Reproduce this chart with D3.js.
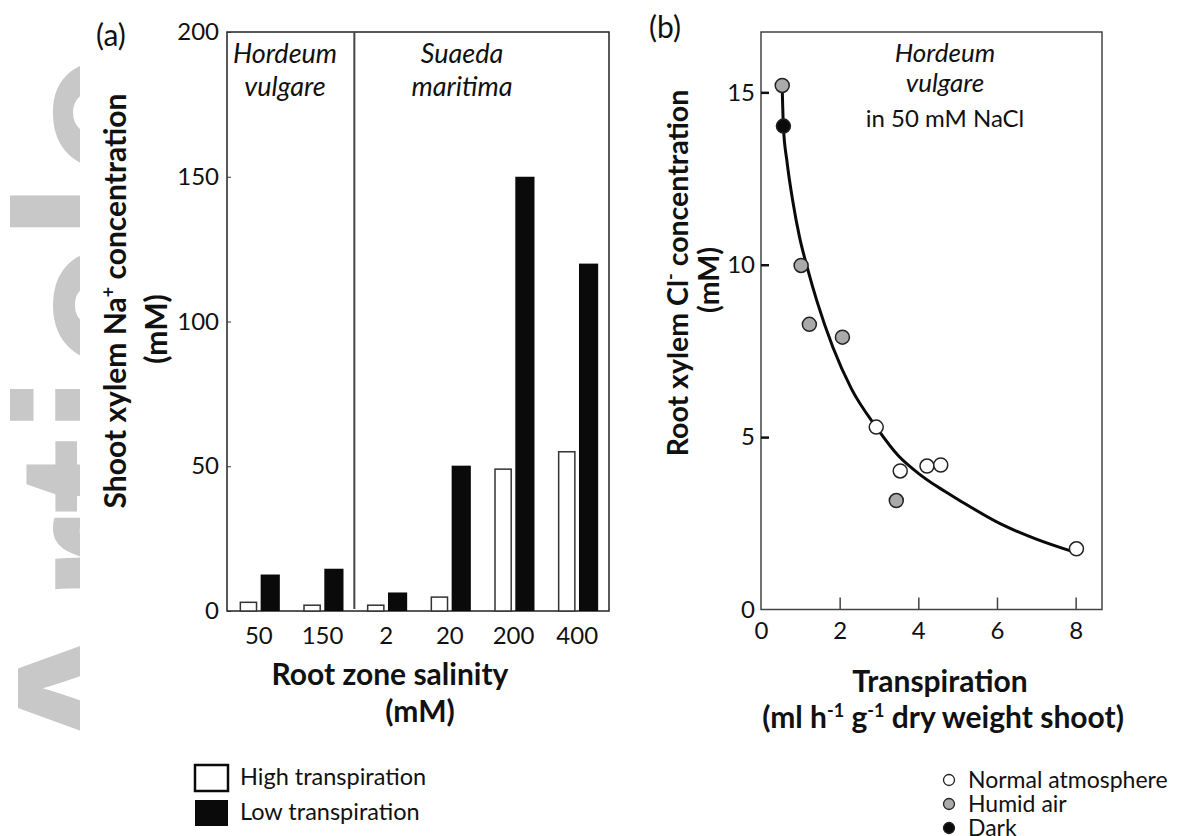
<!DOCTYPE html>
<html lang="en">
<head>
<meta charset="UTF-8">
<title>Xylem ion concentration vs transpiration</title>
<script src="https://cdnjs.cloudflare.com/ajax/libs/d3/7.8.5/d3.min.js"></script>
<style>
  body { margin: 0; padding: 0; background: #fff; }
  svg { display: block; font-family: Lato, "Open Sans", sans-serif; }
  .tick text { fill: #111; }
</style>
</head>
<body>
<div id="chart"></div>
<script>
// ---- panel (a) data: shoot xylem Na+ (mM) ----
const salinity = ["50", "150", "2", "20", "200", "400"];
const highTranspiration = [3, 2, 2, 4.8, 49, 55];
const lowTranspiration = [12.6, 14.6, 6.4, 50.2, 150, 120];
const naTicks = [0, 50, 100, 150, 200];

// ---- panel (b) data: root xylem Cl- (mM) vs transpiration ----
const normalX = [2.93, 3.54, 4.22, 4.57, 8.02];
const normalY = [5.29, 4.02, 4.16, 4.19, 1.76];
const humidX = [0.54, 1.02, 1.23, 2.07, 3.44];
const humidY = [15.2, 9.98, 8.27, 7.9, 3.16];
const darkX = [0.57];
const darkY = [14.02];
// fitted curve
const curveX = [0.54, 0.57, 0.66, 0.8, 0.98, 1.18, 1.42, 1.83, 2.3, 2.93, 3.5, 4.0, 4.5, 5.0, 6.08, 7.0, 7.95];
const curveY = [15.1, 14.0, 13.0, 11.9, 10.8, 9.9, 8.95, 7.6, 6.4, 5.29, 4.45, 3.95, 3.55, 3.2, 2.49, 2.04, 1.67];
const clTicks = [0, 5, 10, 15];
const transpTicks = [0, 2, 4, 6, 8];

const W = 1180, H = 836;
const svg = d3.select("#chart").append("svg")
  .attr("width", W).attr("height", H);

// watermark on the left edge
svg.append("clipPath").attr("id", "wm")
  .append("rect").attr("x", 0).attr("y", 0).attr("width", 80).attr("height", H);
svg.append("g")
  .attr("clip-path", "url(#wm)")
  .append("text")
  .attr("transform", "translate(178,772) rotate(-90)")
  .attr("font-family", "'Liberation Sans', Arial, sans-serif")
  .attr("font-weight", "bold")
  .attr("font-size", 232)
  .attr("fill", "#c8c8c8")
  .text("Article");

// ================= panel (a) =================
const a = { left: 227, right: 609, top: 32, bottom: 611 };

const x0 = d3.scaleBand().domain(salinity).range([a.left, a.right]).padding(0);
const x1 = d3.scaleBand().domain(["high", "low"]).range([-20, 21]).paddingInner(0.12);
const ya = d3.scaleLinear().domain([0, 200]).range([a.bottom, a.top]);

const gA = svg.append("g");

gA.append("rect")
  .attr("x", a.left).attr("y", a.top)
  .attr("width", a.right - a.left).attr("height", a.bottom - a.top)
  .attr("fill", "none").attr("stroke", "#222").attr("stroke-width", 1.5);

// species divider
gA.append("line")
  .attr("x1", x0("2")).attr("x2", x0("2"))
  .attr("y1", a.top).attr("y2", a.bottom - 2)
  .attr("stroke", "#444").attr("stroke-width", 2);

const groups = gA.selectAll("g.grp")
  .data(salinity.map((s, i) => ({ s, high: highTranspiration[i], low: lowTranspiration[i] })))
  .join("g")
  .attr("class", "grp")
  .attr("transform", d => `translate(${x0(d.s) + x0.bandwidth() / 2},0)`);

groups.append("rect")
  .attr("x", x1("high") + 1.5)
  .attr("width", x1.bandwidth() - 3)
  .attr("y", d => ya(d.high))
  .attr("height", d => ya(0) - ya(d.high))
  .attr("fill", "#fff").attr("stroke", "#333").attr("stroke-width", 1.5);

groups.append("rect")
  .attr("x", x1("low"))
  .attr("width", x1.bandwidth())
  .attr("y", d => ya(d.low))
  .attr("height", d => ya(0) - ya(d.low))
  .attr("fill", "#0a0a0a");

const axA = gA.append("g")
  .attr("transform", `translate(${a.left},0)`)
  .call(d3.axisLeft(ya).tickValues(naTicks).tickSize(-4).tickPadding(8));
axA.select(".domain").remove();
axA.selectAll(".tick line").attr("stroke", "#333");
axA.selectAll(".tick text").attr("font-size", 24).attr("font-family", "Lato");

const axAx = gA.append("g")
  .attr("transform", `translate(0,${a.bottom})`)
  .call(d3.axisBottom(x0).tickSize(0).tickPadding(11));
axAx.select(".domain").remove();
axAx.selectAll(".tick text").attr("font-size", 24).attr("font-family", "Lato").attr("dy", "0.9em");

// species labels
const spA = [
  { x: 285, lines: ["Hordeum", "vulgare"] },
  { x: 462, lines: ["Suaeda", "maritima"] }
];
spA.forEach(s => {
  s.lines.forEach((t, i) => {
    gA.append("text")
      .attr("x", s.x).attr("y", 63 + i * 33)
      .attr("text-anchor", "middle")
      .attr("font-style", "italic").attr("font-size", 27)
      .attr("fill", "#111")
      .text(t);
  });
});

gA.append("text").attr("x", 96).attr("y", 46)
  .attr("font-size", 30).attr("fill", "#111").text("(a)");

// y title (a)
const yTitleA = gA.append("text")
  .attr("transform", "translate(126,301) rotate(-90)")
  .attr("text-anchor", "middle").attr("font-weight", "bold").attr("font-size", 30)
  .attr("fill", "#111");
yTitleA.append("tspan").text("Shoot xylem Na");
yTitleA.append("tspan").attr("dy", -11).attr("font-size", 18).text("+");
yTitleA.append("tspan").attr("dy", 11).text(" concentration");
gA.append("text")
  .attr("transform", "translate(167,329) rotate(-90)")
  .attr("text-anchor", "middle").attr("font-weight", "bold").attr("font-size", 30)
  .attr("fill", "#111").text("(mM)");

// x title (a)
gA.append("text").attr("x", 390).attr("y", 685)
  .attr("text-anchor", "middle").attr("font-weight", "bold").attr("font-size", 30)
  .attr("fill", "#111").text("Root zone salinity");
gA.append("text").attr("x", 420).attr("y", 722)
  .attr("text-anchor", "middle").attr("font-weight", "bold").attr("font-size", 30)
  .attr("fill", "#111").text("(mM)");

// legend (a)
const legA = [
  { label: "High transpiration", fill: "#fff", y: 765 },
  { label: "Low transpiration", fill: "#0a0a0a", y: 800 }
];
legA.forEach(l => {
  gA.append("rect").attr("x", 195).attr("y", l.y).attr("width", 33).attr("height", 26)
    .attr("fill", l.fill).attr("stroke", "#0a0a0a").attr("stroke-width", l.fill === "#fff" ? 2.5 : 0);
  gA.append("text").attr("x", 240).attr("y", l.y + 20)
    .attr("font-size", 23.5).attr("fill", "#111").text(l.label);
});

// ================= panel (b) =================
const b = { left: 761, right: 1102, top: 32, bottom: 609.5 };
const xb = d3.scaleLinear().domain([0, 8.67]).range([b.left, b.right]);
const yb = d3.scaleLinear().domain([0, 16.75]).range([b.bottom, b.top]);

const gB = svg.append("g");

gB.append("rect")
  .attr("x", b.left).attr("y", b.top)
  .attr("width", b.right - b.left).attr("height", b.bottom - b.top)
  .attr("fill", "none").attr("stroke", "#444").attr("stroke-width", 1.5);

const axBy = gB.append("g")
  .attr("transform", `translate(${b.left},0)`)
  .call(d3.axisLeft(yb).tickValues(clTicks).tickSize(-8).tickPadding(6));
axBy.select(".domain").remove();
axBy.selectAll(".tick line").attr("stroke", "#111").attr("stroke-width", 2.5)
  .filter(d => d === 0).remove();
axBy.selectAll(".tick text").attr("font-size", 24).attr("font-family", "Lato");

const axBx = gB.append("g")
  .attr("transform", `translate(0,${b.bottom})`)
  .call(d3.axisBottom(xb).tickValues(transpTicks).tickSize(-12).tickPadding(8));
axBx.select(".domain").remove();
axBx.selectAll(".tick line").attr("stroke", "#444").attr("stroke-width", 1.5)
  .filter(d => d === 0).remove();
axBx.selectAll(".tick text").attr("font-size", 24).attr("font-family", "Lato").attr("dy", "0.9em");

// fitted curve
const curvePts = curveX.map((x, i) => [x, curveY[i]]);
gB.append("path")
  .datum(curvePts)
  .attr("fill", "none").attr("stroke", "#0a0a0a").attr("stroke-width", 3)
  .attr("d", d3.line().x(d => xb(d[0])).y(d => yb(d[1])).curve(d3.curveMonotoneX));

const pts = [];
normalX.forEach((x, i) => pts.push({ x, y: normalY[i], fill: "#fff" }));
humidX.forEach((x, i) => pts.push({ x, y: humidY[i], fill: "#aaaaaa" }));
darkX.forEach((x, i) => pts.push({ x, y: darkY[i], fill: "#0a0a0a" }));

gB.selectAll("circle.pt")
  .data(pts)
  .join("circle")
  .attr("class", "pt")
  .attr("cx", d => xb(d.x)).attr("cy", d => yb(d.y)).attr("r", 7)
  .attr("fill", d => d.fill).attr("stroke", "#222").attr("stroke-width", 1.5);

// annotation
[["Hordeum", true, 62], ["vulgare", true, 92], ["in 50 mM NaCl", false, 127]].forEach(([t, it, y]) => {
  gB.append("text").attr("x", 945).attr("y", y)
    .attr("text-anchor", "middle").attr("font-size", it ? 26 : 24)
    .attr("font-style", it ? "italic" : "normal").attr("fill", "#111").text(t);
});

gB.append("text").attr("x", 649).attr("y", 38)
  .attr("font-size", 30).attr("fill", "#111").text("(b)");

// y title (b)
const yTitleB = gB.append("text")
  .attr("transform", "translate(688,273) rotate(-90)")
  .attr("text-anchor", "middle").attr("font-weight", "bold").attr("font-size", 28.5)
  .attr("fill", "#111");
yTitleB.append("tspan").text("Root xylem Cl");
yTitleB.append("tspan").attr("dy", -11).attr("font-size", 18).text("-");
yTitleB.append("tspan").attr("dy", 11).text(" concentration");
gB.append("text")
  .attr("transform", "translate(719,280) rotate(-90)")
  .attr("text-anchor", "middle").attr("font-weight", "bold").attr("font-size", 28.5)
  .attr("fill", "#111").text("(mM)");

// x title (b)
gB.append("text").attr("x", 940).attr("y", 692)
  .attr("text-anchor", "middle").attr("font-weight", "bold").attr("font-size", 30)
  .attr("fill", "#111").text("Transpiration");
const xTitleB = gB.append("text").attr("x", 943).attr("y", 728)
  .attr("text-anchor", "middle").attr("font-weight", "bold").attr("font-size", 30)
  .attr("fill", "#111");
xTitleB.append("tspan").text("(ml h");
xTitleB.append("tspan").attr("dy", -11).attr("font-size", 18).text("-1");
xTitleB.append("tspan").attr("dy", 11).text(" g");
xTitleB.append("tspan").attr("dy", -11).attr("font-size", 18).text("-1");
xTitleB.append("tspan").attr("dy", 11).text(" dry weight shoot)");

// legend (b)
const legB = [
  { label: "Normal atmosphere", fill: "#fff", y: 780 },
  { label: "Humid air", fill: "#aaaaaa", y: 804 },
  { label: "Dark", fill: "#0a0a0a", y: 828 }
];
legB.forEach(l => {
  gB.append("circle").attr("cx", 949).attr("cy", l.y).attr("r", 5.5)
    .attr("fill", l.fill).attr("stroke", "#222").attr("stroke-width", 1.3);
  gB.append("text").attr("x", 968).attr("y", l.y + 8)
    .attr("font-size", 23).attr("fill", "#111").text(l.label);
});
</script>
</body>
</html>
